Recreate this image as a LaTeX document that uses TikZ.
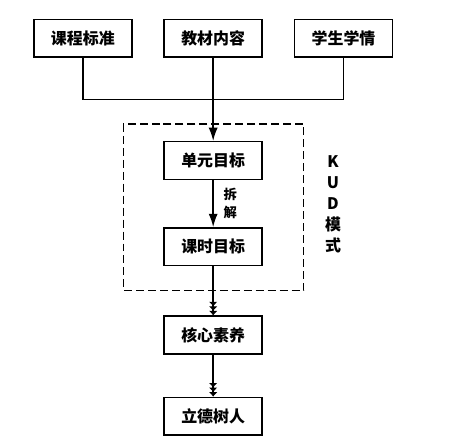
\documentclass[tikz,border=0pt]{standalone}
\usepackage{fontspec}
\setmainfont{Noto Sans CJK SC}
\usepackage{tikz}
\usetikzlibrary{arrows.meta,positioning}
\tikzset{
    stagebox/.style={draw, line width=1.1pt, align=center, font=\fontsize{12}{14}\selectfont\bfseries, minimum width=2.59cm, minimum height=1.0cm, inner sep=0pt},
    flowline/.style={line width=1.1pt},
    flowarrow/.style={flowline, -{Latex[length=3.5mm, width=2.4mm]}},
    stackarrow/.style={flowline, -{Latex[length=1.2mm, width=2.3mm] Latex[length=1.2mm, width=2.3mm] Latex[length=1.2mm, width=2.3mm]}},
    sidelabel/.style={align=center, font=\fontsize{12}{15.75}\selectfont\bfseries, inner sep=0pt}
}
\begin{document}
\begin{tikzpicture}[node distance=2.2cm and 0.82cm]
        \useasboundingbox (-5.64,1.01) rectangle (6.61,-10.71);
        \node[stagebox] (mat) at (0,0) {教材内容};
        \node[stagebox, left=of mat] (std) {课程标准};
        \node[stagebox, right=of mat] (stu) {学生学情};
        \node[stagebox, below=2.2cm of mat] (unit) {单元目标};
        \node[stagebox, below=1.24cm of unit] (lesson) {课时目标};
        \node[stagebox, below=1.3cm of lesson] (core) {核心素养};
        \node[stagebox, below=1.11cm of core] (moral) {立德树人};

        % three sources merge into one line
        \coordinate (join) at ([yshift=-1.11cm]mat.south);
        \draw[flowline] (std.south) |- (join);
        \draw[flowline] (stu.south) |- (join);
        \draw[flowarrow] (mat.south) -- (unit.north);
        \draw[flowarrow] (unit.south) -- node[right=4pt, font=\fontsize{10}{13.5}\selectfont\bfseries, align=center] (split) {拆\\解} (lesson.north);

        % KUD frame
        \draw[flowline, dash pattern=on 6pt off 3pt] ([xshift=-1.06cm, yshift=0.45cm]unit.north west) rectangle ([xshift=1.08cm, yshift=-0.64cm]lesson.south east);
        \node[sidelabel] (kud) at ([xshift=3.17cm]unit.south |- 0,-4.39) {K\\U\\D\\模\\式};

        \draw[stackarrow] (lesson.south) -- (core.north);
        \draw[stackarrow] (core.south) -- (moral.north);
    \end{tikzpicture}
\end{document}
